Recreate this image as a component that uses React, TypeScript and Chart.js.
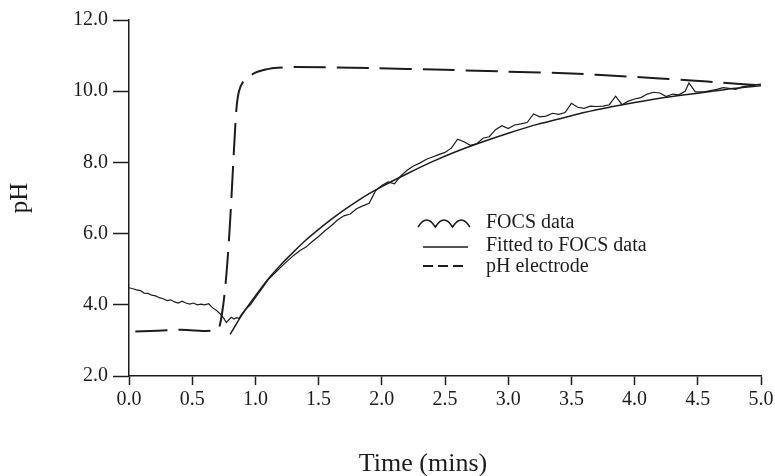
import React, { useEffect, useRef } from "react";
import { Chart, registerables } from "chart.js";

Chart.register(...registerables);

// ---- Data ----
const focsTime = [
  0.0, 0.03, 0.06, 0.09, 0.12, 0.15, 0.18, 0.21, 0.24, 0.27, 0.3, 0.33, 0.36, 0.39,
  0.42, 0.45, 0.48, 0.51, 0.54, 0.57, 0.6, 0.63, 0.66, 0.69, 0.72, 0.75, 0.77, 0.79,
  0.81, 0.83, 0.85, 0.87, 0.9, 0.93, 0.96, 1.0, 1.05, 1.1, 1.15, 1.2, 1.25, 1.3, 1.35,
  1.4, 1.45, 1.5, 1.55, 1.6, 1.65, 1.7, 1.75, 1.8, 1.85, 1.9, 1.95, 2.0, 2.05, 2.1,
  2.15, 2.2, 2.25, 2.3, 2.35, 2.4, 2.45, 2.5, 2.55, 2.6, 2.65, 2.7, 2.75, 2.8, 2.85,
  2.9, 2.95, 3.0, 3.05, 3.1, 3.15, 3.2, 3.25, 3.3, 3.35, 3.4, 3.45, 3.5, 3.55, 3.6,
  3.65, 3.7, 3.75, 3.8, 3.85, 3.9, 3.95, 4.0, 4.05, 4.1, 4.15, 4.2, 4.25, 4.3, 4.35,
  4.4, 4.43, 4.48, 4.55, 4.6, 4.65, 4.7, 4.75, 4.8, 4.85, 4.9, 4.95, 5.0,
];
const focsPH = [
  4.48, 4.45, 4.42, 4.4, 4.33, 4.32, 4.27, 4.25, 4.2, 4.17, 4.12, 4.14, 4.08, 4.05,
  4.1, 4.05, 4.02, 4.05, 4.0, 4.02, 4.0, 4.03, 3.92, 3.85, 3.75, 3.62, 3.5, 3.58,
  3.65, 3.6, 3.64, 3.62, 3.78, 3.9, 4.0, 4.2, 4.45, 4.7, 4.88, 5.05, 5.22, 5.38, 5.52,
  5.62, 5.78, 5.92, 6.08, 6.22, 6.38, 6.5, 6.55, 6.7, 6.78, 6.85, 7.2, 7.35, 7.45, 7.4,
  7.62, 7.78, 7.9, 7.98, 8.08, 8.15, 8.22, 8.28, 8.4, 8.65, 8.58, 8.48, 8.52, 8.68, 8.72,
  8.92, 9.03, 8.95, 9.05, 9.08, 9.12, 9.36, 9.28, 9.3, 9.38, 9.35, 9.4, 9.66, 9.55, 9.52,
  9.58, 9.57, 9.58, 9.62, 9.86, 9.62, 9.72, 9.78, 9.82, 9.92, 9.97, 9.95, 9.85, 9.92, 9.9,
  10.0, 10.23, 9.98, 9.98, 10.02, 10.05, 10.1, 10.08, 10.05, 10.12, 10.15, 10.18, 10.2,
];

const fitTime = [
  0.8, 0.9, 1.0, 1.1, 1.2, 1.3, 1.4, 1.5, 1.6, 1.7, 1.8, 1.9, 2.0, 2.2, 2.4, 2.6, 2.8,
  3.0, 3.2, 3.4, 3.6, 3.8, 4.0, 4.2, 4.4, 4.6, 4.8, 5.0,
];
const fitPH = [
  3.17, 3.75, 4.25, 4.72, 5.12, 5.48, 5.82, 6.12, 6.4, 6.66, 6.9, 7.12, 7.32, 7.68, 8.02,
  8.32, 8.58, 8.82, 9.04, 9.22, 9.4, 9.55, 9.68, 9.8, 9.9, 9.99, 10.08, 10.15,
];

const electrodeTime = [
  0.05, 0.4, 0.715, 0.85, 0.87, 0.9, 0.94, 1.0, 1.05, 1.15, 1.3, 1.9, 2.5, 3.0, 3.5,
  3.9, 4.2, 4.45, 4.7, 4.97,
];
const electrodePH = [
  3.25, 3.3, 3.37, 9.5, 10.0, 10.25, 10.4, 10.52, 10.58, 10.65, 10.68, 10.65, 10.6, 10.55,
  10.5, 10.42, 10.36, 10.3, 10.24, 10.17,
];

const seriesLabels = ["FOCS data", "Fitted to FOCS data", "pH electrode"];
const xAxisTitle = "Time (mins)";
const yAxisTitle = "pH";
const xRange = [0, 5];
const xStep = 0.5;
const yRange = [2, 12];
const yStep = 2;

const FONT = '"Liberation Serif", "Times New Roman", serif';
const INK = "#1c1c1c";

export default function App() {
  const ref = useRef<HTMLCanvasElement | null>(null);

  useEffect(() => {
    document.body.style.margin = "0";
    const canvas = ref.current;
    if (!canvas) return;

    const toXY = (xs: number[], ys: number[]) => xs.map((x, i) => ({ x, y: ys[i] }));

    const legendPlugin = {
      id: "inlineLegend",
      afterDraw(chart: any) {
        const ctx: CanvasRenderingContext2D = chart.ctx;
        ctx.save();
        ctx.strokeStyle = INK;
        ctx.fillStyle = INK;
        ctx.lineCap = "butt";

        // wavy symbol
        ctx.lineWidth = 1.5;
        ctx.beginPath();
        const wx = 418;
        const hw = 17.3;
        ctx.moveTo(wx, 227);
        for (let i = 0; i < 3; i++) {
          const x0 = wx + i * hw;
          ctx.quadraticCurveTo(x0 + hw / 2, 213, x0 + hw, 227);
        }
        ctx.stroke();

        // solid symbol
        ctx.lineWidth = 1.5;
        ctx.beginPath();
        ctx.moveTo(423, 247);
        ctx.lineTo(468, 247);
        ctx.stroke();

        // dashed symbol
        ctx.lineWidth = 1.8;
        ctx.beginPath();
        for (let i = 0; i < 3; i++) {
          ctx.moveTo(423 + i * 15, 266);
          ctx.lineTo(433 + i * 15, 266);
        }
        ctx.stroke();

        ctx.font = `20px ${FONT}`;
        ctx.textAlign = "left";
        ctx.textBaseline = "alphabetic";
        ctx.fillText(seriesLabels[0], 486, 228);
        ctx.fillText(seriesLabels[1], 486, 251);
        ctx.fillText(seriesLabels[2], 486, 272);

        // x axis title
        ctx.font = `26px ${FONT}`;
        ctx.textAlign = "center";
        ctx.textBaseline = "middle";
        ctx.fillText(xAxisTitle, 423, 464);
        ctx.restore();
      },
    };

    const chart = new Chart(canvas, {
      type: "line",
      data: {
        datasets: [
          {
            label: seriesLabels[0],
            data: toXY(focsTime, focsPH),
            borderColor: INK,
            borderWidth: 1.2,
            pointRadius: 0,
            tension: 0,
            fill: false,
          },
          {
            label: seriesLabels[1],
            data: toXY(fitTime, fitPH),
            borderColor: INK,
            borderWidth: 1.5,
            pointRadius: 0,
            tension: 0.3,
            fill: false,
          },
          {
            label: seriesLabels[2],
            data: toXY(electrodeTime, electrodePH),
            borderColor: INK,
            borderWidth: 2,
            borderDash: [32, 11],
            pointRadius: 0,
            tension: 0.2,
            fill: false,
          },
        ],
      },
      options: {
        animation: false,
        responsive: true,
        maintainAspectRatio: false,
        layout: { padding: { top: 20, right: 14, left: 0, bottom: 0 } },
        plugins: { legend: { display: false }, tooltip: { enabled: false } },
        scales: {
          x: {
            type: "linear",
            min: xRange[0],
            max: xRange[1],
            ticks: {
              stepSize: xStep,
              autoSkip: false,
              maxRotation: 0,
              padding: 3,
              color: INK,
              font: { family: FONT, size: 20 },
              callback: (v: any) => Number(v).toFixed(1),
            },
            grid: {
              drawOnChartArea: false,
              drawTicks: true,
              tickLength: 9,
              tickColor: INK,
              tickWidth: 1.5,
            },
            border: { color: INK, width: 1.5 },
            afterFit: (s: any) => {
              s.height = 100;
              s.paddingLeft = 0;
              s.paddingRight = 0;
            },
          },
          y: {
            type: "linear",
            min: yRange[0],
            max: yRange[1],
            ticks: {
              stepSize: yStep,
              padding: 5,
              color: INK,
              font: { family: FONT, size: 20 },
              callback: (v: any) => Number(v).toFixed(1),
            },
            grid: {
              drawOnChartArea: false,
              drawTicks: true,
              tickLength: 16,
              tickColor: INK,
              tickWidth: 1.5,
            },
            border: { color: INK, width: 1.5 },
            title: {
              display: true,
              text: yAxisTitle,
              color: INK,
              font: { family: FONT, size: 25, lineHeight: 1 },
              padding: { top: 8, bottom: 0 },
            },
            afterFit: (s: any) => {
              s.width = 129;
              s.paddingTop = 0;
              s.paddingBottom = 0;
            },
          },
        },
      },
      plugins: [legendPlugin],
    });

    return () => chart.destroy();
  }, []);

  return (
    <div style={{ width: 775, height: 476, position: "relative" }}>
      <canvas ref={ref} />
    </div>
  );
}
